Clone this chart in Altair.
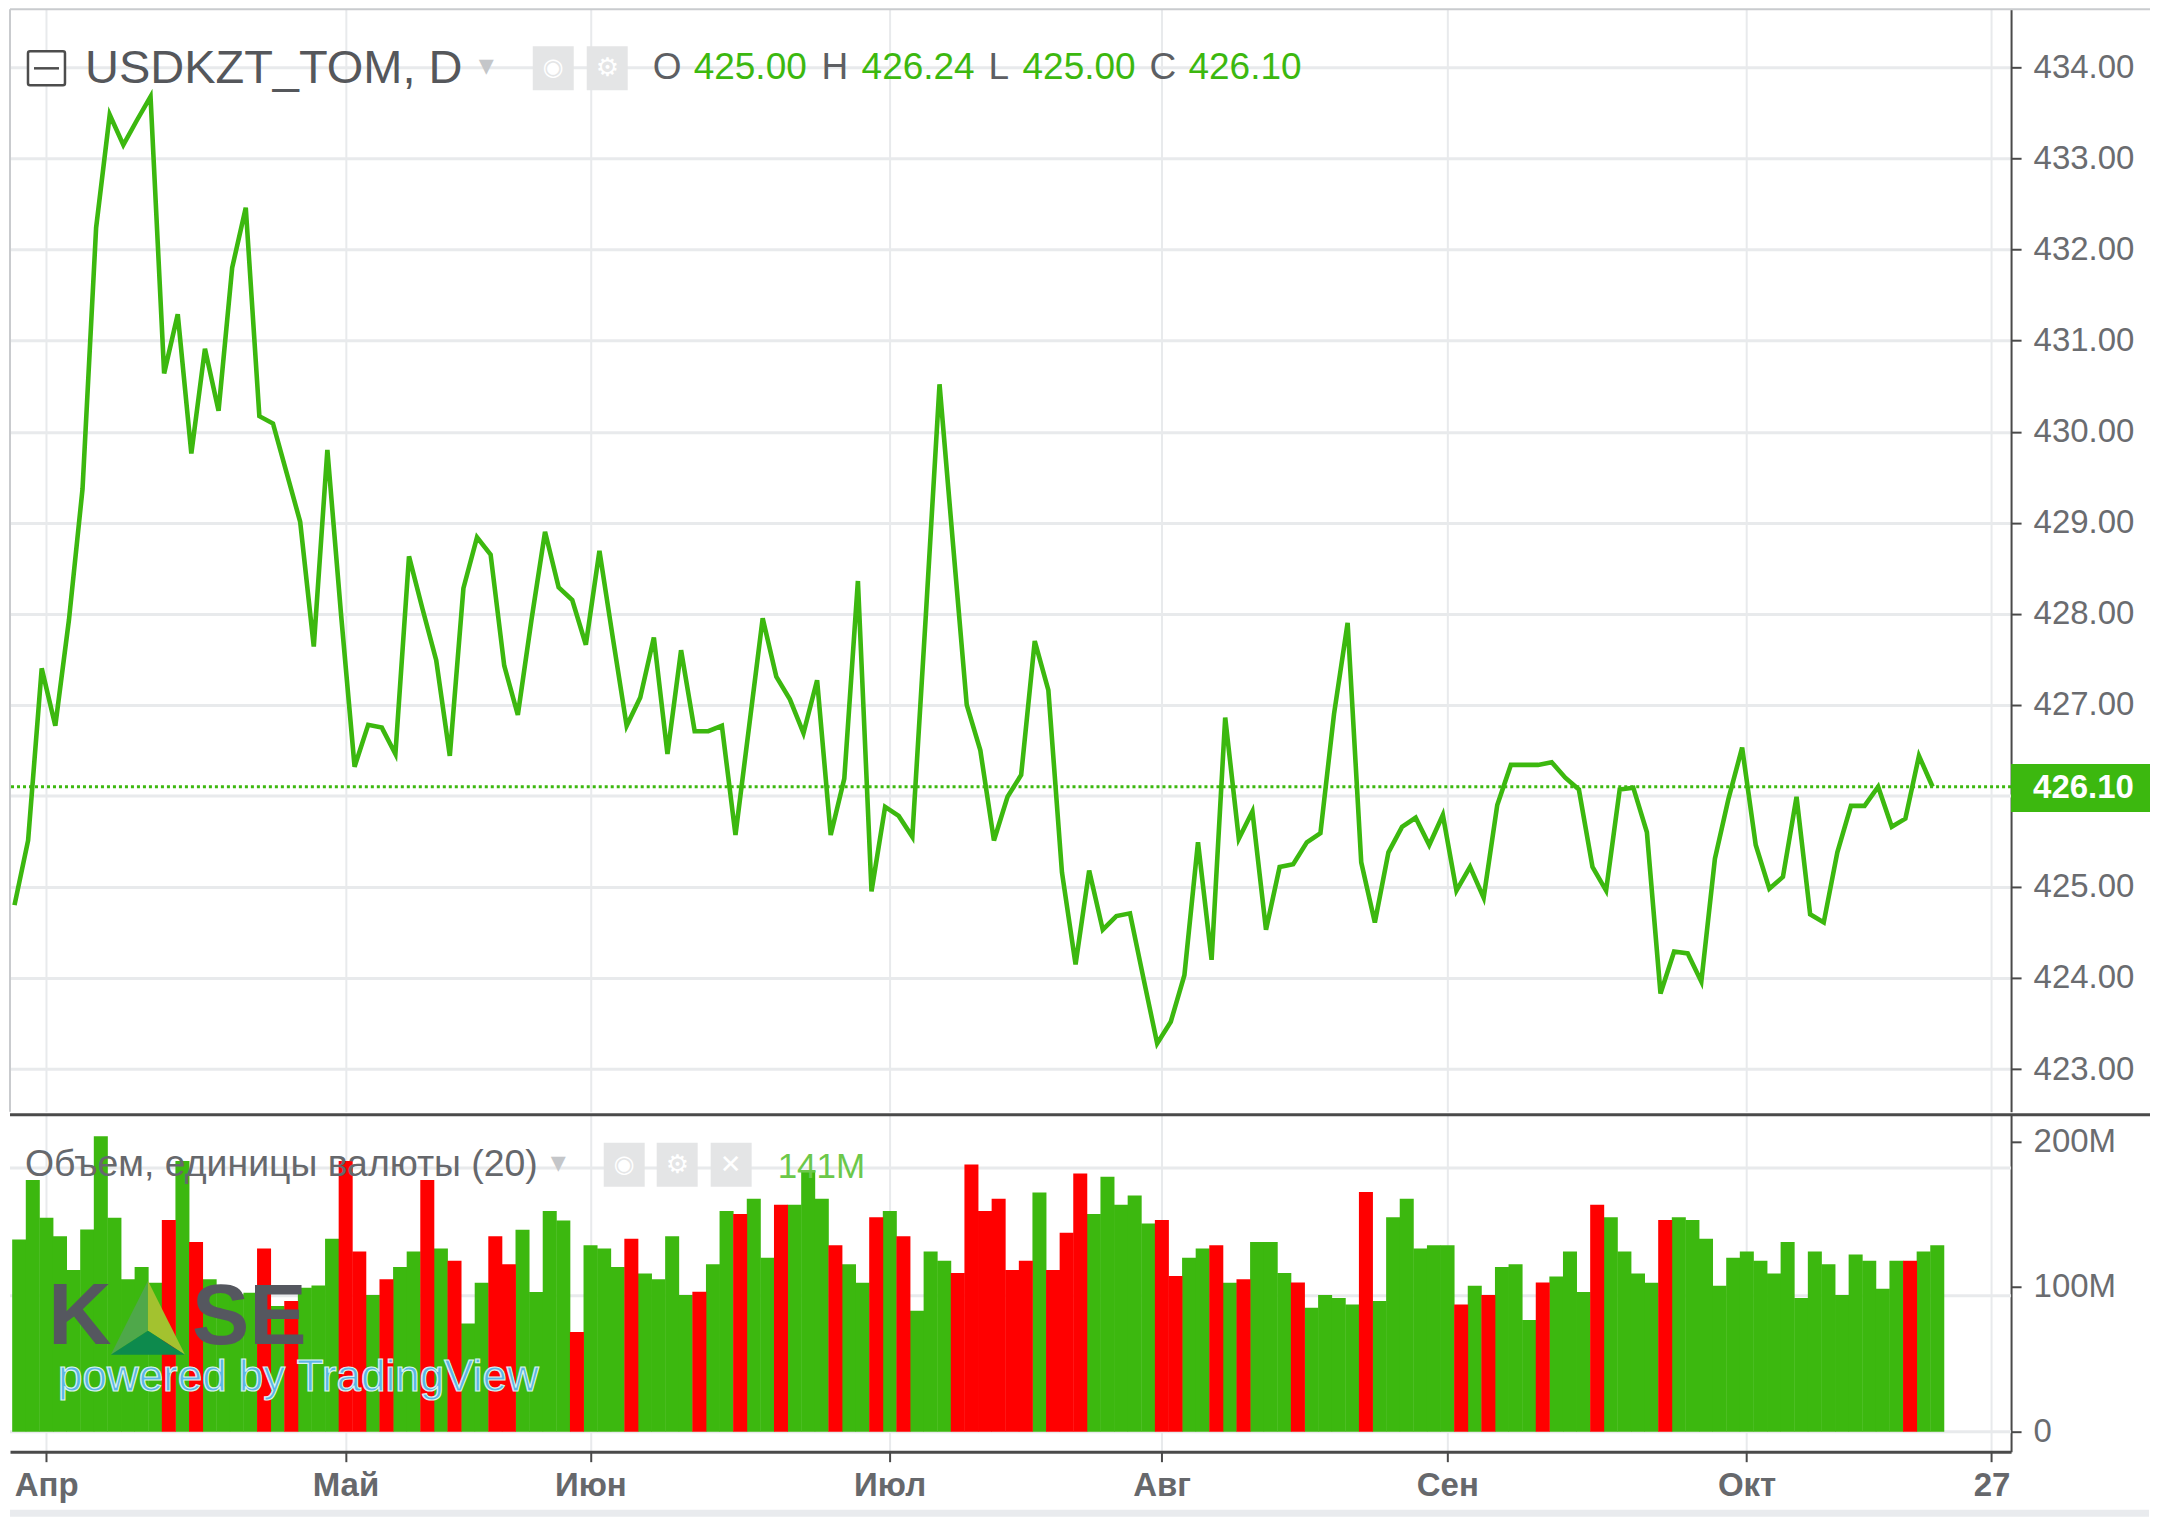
import altair as alt
import pandas as pd

close = [424.8, 425.51, 427.4, 426.77, 427.93, 429.37, 432.24, 433.48, 433.15, 433.42,
         433.68, 430.64, 431.29, 429.76, 430.91, 430.23, 431.8, 432.46, 430.17, 430.09,
         429.55, 429.01, 427.64, 429.8, 428.0, 426.32, 426.78, 426.75, 426.46, 428.63,
         428.05, 427.49, 426.44, 428.28, 428.84, 428.65, 427.43, 426.89, 427.93, 428.9,
         428.29, 428.15, 427.66, 428.69, 427.72, 426.77, 427.08, 427.74, 426.46, 427.6,
         426.71, 426.71, 426.77, 425.57, 426.76, 427.95, 427.31, 427.06, 426.69, 427.27,
         425.57, 426.19, 428.36, 424.95, 425.88, 425.78, 425.55, 428.0, 430.52, 428.75,
         427.0, 426.5, 425.51, 425.99, 426.23, 427.7, 427.16, 425.16, 424.15, 425.18,
         424.53, 424.68, 424.71, 423.99, 423.28, 423.52, 424.03, 425.49, 424.2, 426.86,
         425.53, 425.83, 424.53, 425.22, 425.25, 425.49, 425.59, 426.9, 427.9, 425.27,
         424.61, 425.38, 425.66, 425.76, 425.46, 425.79, 424.96, 425.22, 424.88, 425.9,
         426.34, 426.34, 426.34, 426.37, 426.2, 426.07, 425.22, 424.96, 426.07, 426.09,
         425.6, 423.83, 424.29, 424.27, 423.96, 425.31, 425.97, 426.53, 425.46, 424.98,
         425.11, 425.99, 424.7, 424.61, 425.38, 425.89, 425.89, 426.1, 425.66, 425.75,
         426.44, 426.1]

volume = [132.6, 173.6, 147.6, 134.9, 111.5, 139.5, 203.9, 147.6, 105.1, 113.6,
          102.8, 146.0, 186.7, 130.8, 105.1, 100.5, 94.7, 95.9, 126.4, 86.7,
          90.1, 99.3, 100.9, 133.1, 186.7, 124.4, 94.3, 105.1, 113.6, 124.4,
          173.6, 126.4, 117.9, 74.7, 102.8, 134.9, 115.6, 139.3, 96.3, 152.2,
          145.7, 68.7, 128.7, 126.4, 113.6, 133.1, 109.2, 105.1, 134.9, 94.3,
          96.6, 115.6, 152.2, 150.1, 160.7, 120.0, 156.6, 156.6, 180.0, 160.7,
          128.7, 115.6, 102.8, 148.0, 152.2, 134.9, 83.4, 124.4, 117.9, 109.4,
          184.4, 152.2, 160.7, 111.5, 117.9, 165.1, 111.5, 137.2, 178.2, 150.1,
          175.9, 156.6, 163.0, 143.7, 146.0, 107.4, 120.0, 126.4, 128.7, 102.8,
          105.1, 130.8, 130.8, 109.4, 103.0, 85.5, 94.3, 92.2, 87.8, 165.3,
          90.1, 148.0, 160.7, 126.4, 128.7, 128.7, 87.8, 100.7, 94.3, 113.6,
          115.6, 77.0, 103.0, 107.1, 124.4, 96.3, 156.6, 148.0, 124.4, 109.2,
          102.8, 146.0, 148.0, 146.0, 133.1, 100.7, 120.0, 124.4, 117.9, 109.2,
          130.8, 92.2, 124.4, 115.6, 94.3, 122.3, 117.9, 98.6, 117.9, 117.9,
          124.4, 128.7]

# 1-based positions of the falling (red) volume bars
down_bars = [12, 14, 19, 21, 25, 26, 28, 31, 33, 36, 37, 42, 46, 51, 54, 57, 61, 64, 66, 70,
             71, 72, 73, 74, 75, 77, 78, 79, 85, 86, 89, 91, 95, 100, 107, 109, 113, 117,
             122, 140]

month_ticks = [2, 24, 42, 64, 84, 105, 127, 145]
month_labels = ["Апр", "Май", "Июн", "Июл", "Авг", "Сен", "Окт", "27"]
price_ticks = [423, 424, 425, 427, 428, 429, 430, 431, 432, 433, 434]
hidden_price_grid = [426]
volume_ticks = [0, 100, 200]
volume_grid = [0, 93.8, 182]
last_price = 426.10

GREEN = "#3cb80f"
RED = "#ff0000"
GREY = "#5d5f63"
GRID = "#e8eaec"
AXIS = "#4a4a4a"
LABEL = "#6a6c70"
FONT = "Liberation Sans"
W, H1, H2 = 2002, 1103, 337
X_DOMAIN = [-0.661, 146.44]
X0, Y1, Y2 = 10, 9, 1112

x_scale = alt.Scale(domain=X_DOMAIN, nice=False, zero=False)
p_scale = alt.Scale(domain=[422.53, 434.638], nice=False, zero=False)
v_scale = alt.Scale(domain=[-13.79, 218.6], nice=False, zero=False)

price_df = pd.DataFrame({"i": [k - 0.33 for k in range(len(close))], "close": close})
vol_df = pd.DataFrame({
    "a": [k - 0.5 for k in range(len(volume))],
    "b": [k + 0.53 for k in range(len(volume))],
    "v": volume,
    "down": [(k + 1) in down_bars for k in range(len(volume))],
})


def txt(text, x, y, size, color=GREY, top=Y1, align="left", **kw):
    return alt.Chart(alt.Data(values=[{"t": text}])).mark_text(
        align=align, baseline="middle", fontSize=size, font=kw.pop("font", FONT), color=color, **kw
    ).encode(x=alt.value(x - X0), y=alt.value(y - top), text="t:N")


def box(x1, x2, y1, y2, color, top=Y1, **kw):
    return alt.Chart(alt.Data(values=[{"t": 0}])).mark_rect(color=color, **kw).encode(
        x=alt.value(x1 - X0), x2=alt.value(x2 - X0), y=alt.value(y1 - top), y2=alt.value(y2 - top)
    )


def shape(path, x, y, size, color, top=Y2):
    return alt.Chart(alt.Data(values=[{"t": 0}])).mark_point(
        shape=path, filled=True, color=color, opacity=1, size=size
    ).encode(x=alt.value(x - X0), y=alt.value(y - top))


label_expr = "[" + ",".join(f"'{s}'" for s in month_labels) + "][indexof([" + \
    ",".join(str(t) for t in month_ticks) + "],datum.value)]"

price_x_axis = alt.Axis(values=month_ticks, labels=False, ticks=False, domain=False, title=None,
                        grid=True, gridColor=GRID, gridWidth=2)
price_y_axis = alt.Axis(orient="right", values=price_ticks, format=".2f", title=None, grid=True,
                        gridColor=GRID, gridWidth=3, domain=True, domainColor=AXIS, domainWidth=2,
                        tickColor=AXIS, tickWidth=2, tickSize=10, labelPadding=12,
                        labelFont=FONT, labelFontSize=33, labelColor=LABEL)
vol_x_axis = alt.Axis(values=month_ticks, labelExpr=label_expr, title=None, grid=True, gridColor=GRID,
                      gridWidth=2, domainColor=AXIS, domainWidth=3, tickColor=AXIS, tickWidth=2,
                      tickSize=10, labelPadding=8, labelFont=FONT, labelFontSize=33,
                      labelFontWeight="bold", labelColor="#66686c", labelFlush=False)
vol_y_axis = alt.Axis(orient="right", values=volume_ticks,
                      labelExpr="datum.value==0?'0':datum.value+'M'", title=None, grid=False,
                      domain=True, domainColor=AXIS, domainWidth=2, tickColor=AXIS, tickWidth=2,
                      tickSize=10, labelPadding=12, labelFont=FONT, labelFontSize=33, labelColor=LABEL)

pgrid = alt.Chart(pd.DataFrame({"g": hidden_price_grid})).mark_rule(color=GRID, strokeWidth=3).encode(
    y=alt.Y("g:Q", scale=p_scale, axis=price_y_axis)
)
line = alt.Chart(price_df).mark_line(color=GREEN, strokeWidth=4.6, strokeJoin="miter", clip=True).encode(
    x=alt.X("i:Q", scale=x_scale, axis=price_x_axis),
    y=alt.Y("close:Q", scale=p_scale, axis=price_y_axis),
)
last_rule = alt.Chart(alt.Data(values=[{"p": last_price}])).mark_rule(
    color=GREEN, strokeWidth=2.8, strokeDash=[3, 3]
).encode(y=alt.Y("p:Q", scale=p_scale, axis=price_y_axis))

o_x = [(653, "O", GREY), (694, "425.00", GREEN), (822, "H", GREY), (862, "426.24", GREEN),
       (989, "L", GREY), (1023, "425.00", GREEN), (1150, "C", GREY), (1189, "426.10", GREEN)]

price_layers = [
    pgrid,
    line,
    last_rule,
    box(2012, 2151, 764, 812, GREEN),
    txt(f"{last_price:.2f}", 2034, 788, 33, "#ffffff", fontWeight="bold"),
    box(28, 65, 51, 85, "#ffffff", stroke="#4d4d4d", strokeWidth=2.5, cornerRadius=2),
    alt.Chart(alt.Data(values=[{"t": 0}])).mark_rule(color="#4d4d4d", strokeWidth=2.5).encode(
        x=alt.value(34 - X0), x2=alt.value(59 - X0), y=alt.value(68 - Y1)),
    txt("USDKZT_TOM, D", 85, 69, 47, "#55575b"),
    txt("▾", 479, 66, 30, "#c4c6c9", font="DejaVu Sans"),
    box(533, 574, 46, 90, "#e4e5e6"),
    box(587, 628, 46, 90, "#e4e5e6"),
    txt("◉", 543, 68, 24, "#ffffff", font="DejaVu Sans"),
    txt("⚙", 596, 68, 26, "#ffffff", font="DejaVu Sans"),
] + [txt(t, x, 68, 37, c) for x, t, c in o_x] + [
    alt.Chart(alt.Data(values=[{"t": 0}])).mark_rule(color="#c9cbce", strokeWidth=2).encode(
        x=alt.value(0), x2=alt.value(2141), y=alt.value(0)),
    alt.Chart(alt.Data(values=[{"t": 0}])).mark_rule(color="#c9cbce", strokeWidth=2).encode(
        y=alt.value(0), y2=alt.value(H1), x=alt.value(0)),
]
price_chart = alt.layer(*price_layers).properties(width=W, height=H1)

vgrid = alt.Chart(pd.DataFrame({"g": volume_grid})).mark_rule(color=GRID, strokeWidth=3).encode(
    y=alt.Y("g:Q", scale=v_scale, axis=vol_y_axis)
)
up = alt.Chart(vol_df[~vol_df.down]).mark_rect(color=GREEN, clip=True).encode(
    x=alt.X("a:Q", scale=x_scale, axis=vol_x_axis),
    x2="b:Q",
    y=alt.Y("v:Q", scale=v_scale, axis=vol_y_axis),
    y2=alt.datum(0),
)
down = alt.Chart(vol_df[vol_df.down]).mark_rect(color=RED, clip=True).encode(
    x=alt.X("a:Q", scale=x_scale, axis=vol_x_axis),
    x2="b:Q",
    y=alt.Y("v:Q", scale=v_scale, axis=vol_y_axis),
    y2=alt.datum(0),
)

vol_layers = [
    vgrid, up, down,
    alt.Chart(alt.Data(values=[{"t": 0}])).mark_rule(color=AXIS, strokeWidth=3).encode(
        x=alt.value(0), x2=alt.value(2141), y=alt.value(0)),
    txt("Объем, единицы валюты (20)", 25, 1162, 37.4, "#66686c", top=Y2),
    txt("▾", 551, 1160, 30, "#c4c6c9", top=Y2, font="DejaVu Sans"),
    box(604, 645, 1140, 1184, "#e4e5e6", top=Y2),
    box(657, 698, 1140, 1184, "#e4e5e6", top=Y2),
    box(711, 752, 1140, 1184, "#e4e5e6", top=Y2),
    txt("◉", 614, 1162, 24, "#ffffff", top=Y2, font="DejaVu Sans"),
    txt("⚙", 666, 1162, 26, "#ffffff", top=Y2, font="DejaVu Sans"),
    txt("✕", 720, 1162, 26, "#ffffff", top=Y2, font="DejaVu Sans"),
    txt("141M", 778, 1164, 35, "#6cc84a", top=Y2),
    txt("K", 48, 1315, 88, "#55575f", top=Y2, fontWeight="bold"),
    shape("M0,-1L-1,1L0,0.35Z", 148, 1315, 5500, "#4fa84a"),
    shape("M0,-1L1,1L0,0.35Z", 148, 1315, 5500, "#a3c22f"),
    shape("M0,0.35L-1,1L1,1Z", 148, 1315, 5500, "#0d8a4d"),
    txt("SE", 192, 1315, 86, "#55575f", top=Y2, fontWeight="bold"),
    txt("powered by TradingView", 58, 1375, 44, "#5cb5e6", top=Y2, stroke="#d8f2ee", strokeWidth=1.2),
    box(10, 2150, 1507, 1514, "#e9ebee", top=Y2),
]
vol_chart = alt.layer(*vol_layers).properties(width=W, height=H2)

chart = alt.vconcat(price_chart, vol_chart, spacing=0).resolve_scale(x="shared").configure_view(
    stroke=None
).properties(padding={"left": 0, "top": 0, "right": 0, "bottom": 0}, background="#ffffff")

chart.save("out.html", embed_options={"renderer": "svg", "actions": False})
